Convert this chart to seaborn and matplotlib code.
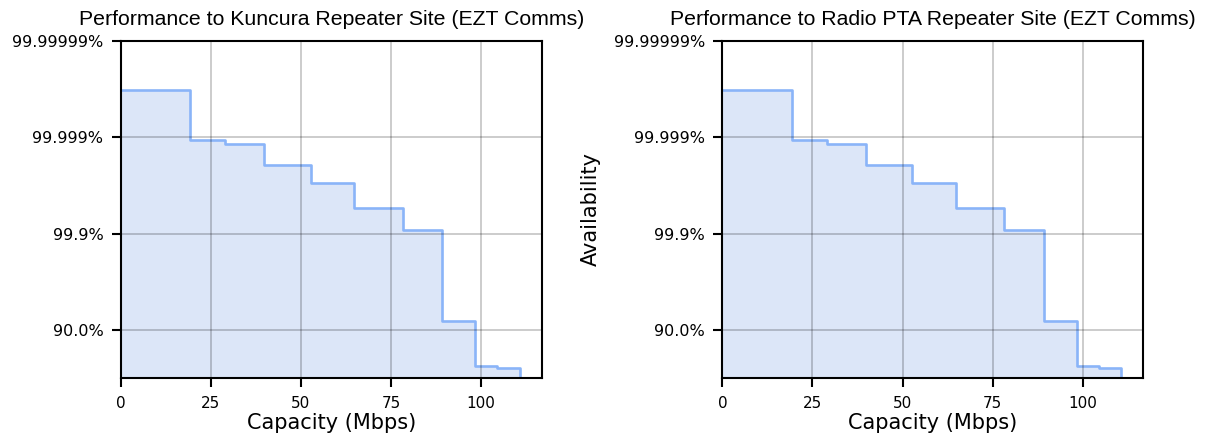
import numpy as np
import matplotlib
matplotlib.use("Agg")
import matplotlib.pyplot as plt
import seaborn as sns

# capacity steps (Mbps) and availability (%)
kuncura_capacity = [0, 19.3, 28.9, 39.8, 52.7, 64.8, 78.2, 89.2, 98.4, 104.4, 110.7]
kuncura_availability = [99.999893, 99.99885, 99.99859, 99.9962, 99.9909, 99.9705,
                        99.915, 93.39, 43.8, 38.3]

radio_pta_capacity = [0, 19.3, 28.9, 39.8, 52.7, 64.8, 78.2, 89.2, 98.4, 104.4, 110.7]
radio_pta_availability = [99.999893, 99.99885, 99.99859, 99.9962, 99.9909, 99.9705,
                          99.915, 93.39, 43.8, 38.3]

titles = ["Performance to Kuncura Repeater Site (EZT Comms)",
          "Performance to Radio PTA Repeater Site (EZT Comms)"]
ytick_nines = [1, 3, 5, 7]
ytick_labels = ["90.0%", "99.9%", "99.999%", "99.99999%"]
xticks = [0, 25, 50, 75, 100]

sns.set_theme(style="ticks")
plt.rcParams["font.family"] = ["DejaVu Sans"]
plt.rcParams["text.color"] = "black"
plt.rcParams["axes.labelcolor"] = "black"

line_color = "#8ab4f8"
fill_color = "#dce6f8"

fig, axes = plt.subplots(1, 2, figsize=(12.08, 4.37), dpi=100)
fig.subplots_adjust(left=0.0999, right=0.9465, bottom=0.1343, top=0.9069, wspace=0.429)

sites = [(kuncura_capacity, kuncura_availability),
         (radio_pta_capacity, radio_pta_availability)]

for i, (ax, (cap, avail)) in enumerate(zip(axes, sites)):
    # convert availability to "number of nines"
    nines = [-np.log10(1 - a / 100.0) for a in avail]
    xs = list(cap)
    ys = nines + [0.0]
    ax.fill_between(xs, ys, step="post", color=fill_color, linewidth=0, zorder=1)
    sns.lineplot(x=xs, y=ys, drawstyle="steps-post", estimator=None, sort=False,
                 color=line_color, linewidth=1.9, ax=ax, zorder=2)

    ax.set_xlim(0, 116.8)
    ax.set_ylim(0, 7)
    ax.set_xticks(xticks)
    ax.set_yticks(ytick_nines)
    ax.set_yticklabels(ytick_labels)
    ax.tick_params(axis="x", labelsize=11)
    ax.tick_params(axis="y", labelsize=11.5)
    ax.tick_params(axis="both", length=6.5, width=1.5, pad=6,
                   color="black", labelcolor="black")
    ax.grid(True, color="black", alpha=0.2, linewidth=1.4)
    ax.set_axisbelow(False)
    for s in ax.spines.values():
        s.set_linewidth(1.5)
        s.set_color("black")
        s.set_zorder(3)

    ax.set_title(titles[i], fontsize=15.3, family=["Liberation Sans", "DejaVu Sans"],
                 pad=11, color="black")
    ax.set_xlabel("Capacity (Mbps)", fontsize=15, labelpad=2)
    if i == 1:
        ax.set_ylabel("Availability", fontsize=15, labelpad=9)
    else:
        ax.set_ylabel("")

plt.savefig("out.png", dpi=100)
